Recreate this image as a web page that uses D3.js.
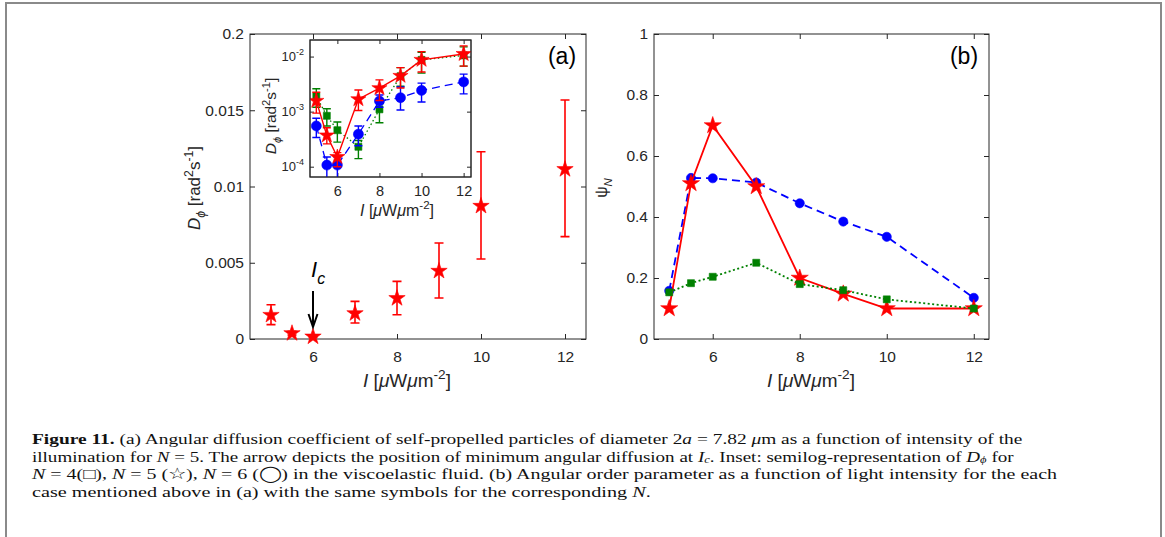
<!DOCTYPE html>
<html>
<head>
<meta charset="utf-8">
<script src="https://cdn.jsdelivr.net/npm/d3@7"></script>
<style>
  body { margin: 0; background: #fff; }
  svg { display: block; }
</style>
</head>
<body>
<script>
// Light intensity I (μW μm^-2)
const intensity = [5, 5.5, 6, 7, 8, 9, 10, 12];

// Angular diffusion coefficient D_phi for N = 5 (stars) with error range
const dN5   = [0.00157, 0.00037, 0.00015, 0.00168, 0.00267, 0.00446, 0.00872, 0.01113];
const dN5Lo = [0.00094, 0.00026, 0.00010, 0.00105, 0.00159, 0.00269, 0.00525, 0.00671];
const dN5Hi = [0.00225, 0.00051, 0.00018, 0.00247, 0.00378, 0.00630, 0.01228, 0.01567];

// Inset: N = 6 (circles) and N = 4 (squares)
const dN6   = [5.5e-4, 1.07e-4, 1.07e-4, 3.9e-4, 1.56e-3, 1.79e-3, 2.43e-3, 3.47e-3];
const dN6Lo = [3.4e-4, 6.0e-5, 6.0e-5, 2.4e-4, 1.2e-3, 1.07e-3, 1.5e-3, 2.1e-3];
const dN6Hi = [7.6e-4, 1.5e-4, 1.5e-4, 5.5e-4, 2.0e-3, 2.8e-3, 3.3e-3, 4.8e-3];
const dN4   = [1.9e-3, 8.4e-4, 4.6e-4, 2.3e-4, 1.1e-3, 4.4e-3, 8.7e-3, 1.05e-2];
const dN4Lo = [1.2e-3, 5.5e-4, 2.8e-4, 1.4e-4, 6.3e-4, 2.9e-3, 5.0e-3, 6.7e-3];
const dN4Hi = [2.6e-3, 1.13e-3, 6.5e-4, 3.0e-4, 1.56e-3, 6.3e-3, 1.2e-2, 1.5e-2];

// Angular order parameter psi_N
const psiN4 = [0.153, 0.183, 0.204, 0.25, 0.18, 0.16, 0.13, 0.10];
const psiN5 = [0.10, 0.51, 0.70, 0.50, 0.20, 0.148, 0.10, 0.10];
const psiN6 = [0.158, 0.528, 0.527, 0.513, 0.445, 0.385, 0.335, 0.135];

// Ticks
const xTicks = [6, 8, 10, 12];
const dTicks = [0, 0.005, 0.01, 0.015, 0.02];
const dTickLabels = ["0", "0.005", "0.01", "0.015", "0.2"];
const logTicks = [1e-4, 1e-3, 1e-2];
const logTickExp = ["-4", "-3", "-2"];
const psiTicks = [0, 0.2, 0.4, 0.6, 0.8, 1];
const psiTickLabels = ["0", "0.2", "0.4", "0.6", "0.8", "1"];

const W = 1165, H = 537;
const sans = "'Liberation Sans', Arial, Helvetica, sans-serif";
const serif = "'Liberation Serif', 'Times New Roman', serif";
const ink = "#262626";
const RED = "#ff0000", BLUE = "#0000ff", GREEN = "#008000";

const svg = d3.select("body").append("svg")
  .attr("width", W).attr("height", H)
  .attr("font-family", sans);

// Figure frame (open at the bottom)
svg.append("path")
  .attr("d", `M6,${H} V3 H1161 V${H}`)
  .attr("fill", "none").attr("stroke", "#8a8a8a").attr("stroke-width", 2);

const starPath = r => d3.symbol(d3.symbolStar, r * r / 0.8908130915292852)();
const circlePath = r => d3.symbol(d3.symbolCircle, Math.PI * r * r)();
const squarePath = s => d3.symbol(d3.symbolSquare, s * s)();

function pts(ys, lo, hi) {
  return intensity.map((x, i) => ({ x, y: ys[i], lo: lo ? lo[i] : null, hi: hi ? hi[i] : null }));
}

function styleAxis(g, size) {
  g.select(".domain").remove();
  g.selectAll(".tick line").attr("stroke", ink).attr("stroke-width", 1);
  g.selectAll(".tick text").attr("fill", ink).attr("font-size", size).attr("font-family", sans);
}

// Boxed axes with inward ticks on all four sides
function boxAxes(g, x, y, o) {
  const [x0, x1] = x.range(), [y0, y1] = y.range();
  g.append("rect").attr("x", x0).attr("y", y1).attr("width", x1 - x0).attr("height", y0 - y1)
    .attr("fill", o.fill || "none").attr("stroke", "none");
  g.append("g").attr("transform", `translate(0,${y0})`)
    .call(d3.axisBottom(x).tickValues(o.xTicks).tickSize(-o.tick).tickPadding(o.xPad).tickFormat(d3.format("d")))
    .call(a => styleAxis(a, o.xFont));
  g.append("g").attr("transform", `translate(0,${y1})`)
    .call(d3.axisTop(x).tickValues(o.xTicks).tickSize(-o.tick).tickFormat(""))
    .call(a => styleAxis(a, o.xFont));
  const left = g.append("g").attr("transform", `translate(${x0},0)`)
    .call(d3.axisLeft(y).tickValues(o.yTicks).tickSize(-o.tick).tickPadding(o.yPad)
      .tickFormat(o.yLabels ? (d, i) => o.yLabels[i] : ""))
    .call(a => styleAxis(a, o.yFont));
  g.append("g").attr("transform", `translate(${x1},0)`)
    .call(d3.axisRight(y).tickValues(o.yTicks).tickSize(-o.tick).tickFormat(""))
    .call(a => styleAxis(a, o.yFont));
  g.append("rect").attr("x", x0).attr("y", y1).attr("width", x1 - x0).attr("height", y0 - y1)
    .attr("fill", "none").attr("stroke", ink).attr("stroke-width", 1);
  return left;
}

function drawSeries(g, data, x, y, o) {
  const s = g.append("g");
  if (o.line) {
    s.append("path").datum(data)
      .attr("d", d3.line().x(d => x(d.x)).y(d => y(d.y)))
      .attr("fill", "none").attr("stroke", o.color).attr("stroke-width", o.lw)
      .attr("stroke-dasharray", o.dash || null);
  }
  if (o.err) {
    s.append("g").attr("stroke", o.color).attr("stroke-width", o.ew).attr("fill", "none")
      .selectAll("path").data(data).join("path")
      .attr("d", d => {
        const cx = x(d.x), ya = y(d.lo), yb = y(d.hi), c = o.cap;
        return `M${cx},${ya}V${yb}M${cx - c},${ya}H${cx + c}M${cx - c},${yb}H${cx + c}`;
      });
  }
  s.append("g").selectAll("path").data(data).join("path")
    .attr("transform", d => `translate(${x(d.x)},${y(d.y)})`)
    .attr("d", o.symbol)
    .attr("fill", o.color).attr("stroke", o.color).attr("stroke-width", 0.6);
}

// Rich text helper: parts are [text, style] with style in {b, i, sub, sup, isub}
function richText(t, parts, base, subShift = 0.3, subSize = 0.72) {
  let shift = 0;
  parts.forEach(([str, st]) => {
    const ts = t.append("tspan").text(str);
    let target = 0;
    if (st === "b") ts.attr("font-weight", "bold");
    if (st === "i" || st === "isub") ts.attr("font-style", "italic");
    if (st === "sub" || st === "isub") { target = base * subShift; ts.attr("font-size", base * subSize); }
    if (st === "sup") { target = -base * 0.42; ts.attr("font-size", base * 0.72); }
    if (target !== shift) { ts.attr("dy", target - shift); shift = target; }
  });
  return t;
}

// Axis label "I [μWμm^-2]"
const intensityLabel = [["I", "i"], [" ["], ["μ", "i"], ["W"], ["μ", "i"], ["m"], ["-2", "sup"], ["]"]];
const dLabel = [["D", "i"], ["ϕ", "isub"], [" [rad"], ["2", "sup"], ["s"], ["-1", "sup"], ["]"]];

// ---------- Panel (a) ----------
const xa = d3.scaleLinear().domain([4.5, 12.5]).range([250, 586]);
const ya = d3.scaleLinear().domain([0, 0.02]).range([339, 34]);
const gA = svg.append("g");
boxAxes(gA, xa, ya, { xTicks, yTicks: dTicks, yLabels: dTickLabels, tick: 5, xPad: 12, yPad: 6, xFont: 15.5, yFont: 15.5 });

drawSeries(gA, pts(dN5, dN5Lo, dN5Hi), xa, ya,
  { color: RED, err: true, ew: 1.6, cap: 4.5, symbol: starPath(8.6) });

richText(gA.append("text").attr("x", 407).attr("y", 387).attr("text-anchor", "middle")
  .attr("font-size", 19).attr("fill", ink), intensityLabel, 19);
richText(gA.append("text").attr("transform", "translate(200,188) rotate(-90)").attr("text-anchor", "middle")
  .attr("font-size", 17).attr("fill", ink), dLabel, 17);

gA.append("text").attr("x", 562).attr("y", 64).attr("text-anchor", "middle")
  .attr("font-size", 23).attr("fill", "#000").text("(a)");

// I_c marker with arrow at the minimum
const icX = xa(6);
richText(gA.append("text").attr("x", icX - 2).attr("y", 277).attr("font-size", 22).attr("fill", "#000"),
  [["I", "i"], ["c", "isub"]], 22);
gA.append("path").attr("d", `M${icX},291V325`).attr("stroke", "#000").attr("stroke-width", 2);
gA.append("path").attr("d", `M${icX - 4.5},314L${icX},327L${icX + 4.5},314`)
  .attr("stroke", "#000").attr("stroke-width", 2).attr("fill", "none");

// ---------- Inset (semilog) ----------
const xi = d3.scaleLinear().domain([4.7, 12.35]).range([310, 471]);
const yi = d3.scaleLog().domain([6.5e-5, 0.02]).range([177, 40]);
const gI = svg.append("g");
const leftI = boxAxes(gI, xi, yi, { xTicks, yTicks: logTicks, tick: 4, fill: "#fff", xPad: 9, yPad: 6, xFont: 14.5, yFont: 13 });
leftI.selectAll(".tick text").each(function (d, i) {
  const t = d3.select(this).text(null);
  t.append("tspan").text("10");
  t.append("tspan").attr("dy", -6).attr("font-size", 9).text(logTickExp[i]);
});

svg.append("clipPath").attr("id", "insetClip").append("rect")
  .attr("x", 310).attr("y", 40).attr("width", 161).attr("height", 137);
const gIS = gI.append("g").attr("clip-path", "url(#insetClip)");
drawSeries(gIS, pts(dN4, dN4Lo, dN4Hi), xi, yi,
  { color: GREEN, line: true, lw: 1.3, dash: "1.5,2.5", err: true, ew: 1.4, cap: 4, symbol: squarePath(7) });
drawSeries(gIS, pts(dN6, dN6Lo, dN6Hi), xi, yi,
  { color: BLUE, line: true, lw: 1.3, dash: "8,5", err: true, ew: 1.4, cap: 4, symbol: circlePath(5) });
drawSeries(gIS, pts(dN5, dN5Lo, dN5Hi), xi, yi,
  { color: RED, line: true, lw: 1.4, err: true, ew: 1.4, cap: 4, symbol: starPath(8) });
gI.append("rect").attr("x", 310).attr("y", 40).attr("width", 161).attr("height", 137)
  .attr("fill", "none").attr("stroke", ink).attr("stroke-width", 1);

richText(gI.append("text").attr("x", 397).attr("y", 216).attr("text-anchor", "middle")
  .attr("font-size", 16).attr("fill", ink), intensityLabel, 16);
richText(gI.append("text").attr("transform", "translate(276,116) rotate(-90)").attr("text-anchor", "middle")
  .attr("font-size", 15.5).attr("fill", ink), dLabel, 15.5);

// ---------- Panel (b) ----------
const xb = d3.scaleLinear().domain([4.65, 12.35]).range([654, 989]);
const yb = d3.scaleLinear().domain([0, 1]).range([339, 34]);
const gB = svg.append("g");
boxAxes(gB, xb, yb, { xTicks, yTicks: psiTicks, yLabels: psiTickLabels, tick: 5, xPad: 12, yPad: 6, xFont: 15.5, yFont: 15.5 });

drawSeries(gB, pts(psiN6), xb, yb,
  { color: BLUE, line: true, lw: 1.8, dash: "8,5", symbol: circlePath(4.6) });
drawSeries(gB, pts(psiN5), xb, yb,
  { color: RED, line: true, lw: 1.8, symbol: starPath(9) });
drawSeries(gB, pts(psiN4), xb, yb,
  { color: GREEN, line: true, lw: 1.8, dash: "2,2.5", symbol: squarePath(7) });

richText(gB.append("text").attr("x", 811).attr("y", 387).attr("text-anchor", "middle")
  .attr("font-size", 19).attr("fill", ink), intensityLabel, 19);
richText(gB.append("text").attr("transform", "translate(607,188) rotate(-90)").attr("text-anchor", "middle")
  .attr("font-size", 16).attr("fill", ink), [["ψ"], ["N", "isub"]], 16);

gB.append("text").attr("x", 964).attr("y", 64).attr("text-anchor", "middle")
  .attr("font-size", 23).attr("fill", "#000").text("(b)");

// ---------- Caption ----------
const captionLines = [
  [["Figure 11.", "b"], [" (a) Angular diffusion coefficient of self-propelled particles of diameter 2"], ["a", "i"],
   [" = 7.82 "], ["μ", "i"], ["m as a function of intensity of the"]],
  [["illumination for "], ["N", "i"], [" = 5. The arrow depicts the position of minimum angular diffusion at "],
   ["I", "i"], ["c", "isub"], [". Inset: semilog-representation of "], ["D", "i"], ["ϕ", "isub"], [" for"]],
  [["N", "i"], [" = 4(□), "], ["N", "i"], [" = 5 (☆), "], ["N", "i"],
   [" = 6 (◯) in the viscoelastic fluid. (b) Angular order parameter as a function of light intensity for the each"]],
  [["case mentioned above in (a) with the same symbols for the corresponding "], ["N", "i"], ["."]]
];
const captionWidths = [991, 982, 1027, 619];
const capFont = 15.5;
const capG = svg.append("g").attr("font-family", serif).attr("fill", "#111");
captionLines.forEach((parts, i) => {
  const t = capG.append("text").attr("x", 0).attr("y", 0).attr("font-size", capFont);
  richText(t, parts, capFont, 0.1, 0.66);
  // widen each line horizontally to the set measure
  const natural = t.node().getComputedTextLength();
  const sx = captionWidths[i] / natural;
  t.attr("transform", `translate(32,${444 + i * 17.5}) scale(${sx},1)`);
});
</script>
</body>
</html>
